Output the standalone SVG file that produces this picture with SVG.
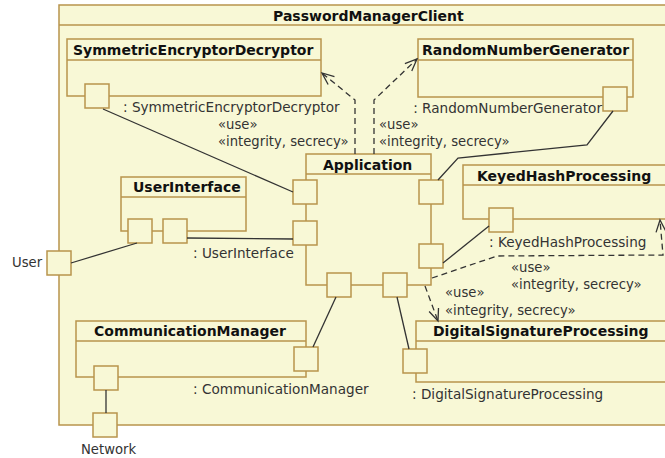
<svg xmlns="http://www.w3.org/2000/svg" width="665" height="458" viewBox="0 0 665 458">
<style>
.box{fill:#f8f8d6;stroke:#b8944c;stroke-width:1.5}
.hdr{fill:none;stroke:#b8944c;stroke-width:1.5}
.port{fill:#f8f8d6;stroke:#b8944c;stroke-width:1.5}
.ttl{font-family:"DejaVu Sans",Verdana,sans-serif;font-weight:bold;font-size:14px;fill:#111}
.lbl{font-family:"DejaVu Sans",Verdana,sans-serif;font-size:13.6px;fill:#333}
.st{font-family:"DejaVu Sans",Verdana,sans-serif;font-size:13.2px;fill:#333}
.ln{fill:none;stroke:#333;stroke-width:1.3}
.dash{fill:none;stroke:#333;stroke-width:1.3;stroke-dasharray:6,4}
</style>
<defs>
<marker id="open" viewBox="-14 -7 16 14" refX="0" refY="0" markerWidth="16" markerHeight="14" markerUnits="userSpaceOnUse" orient="auto">
<path d="M-12,-5 L0,0 L-12,5" fill="none" stroke="#333" stroke-width="1.3"/>
</marker>
</defs>
<rect width="665" height="458" fill="#ffffff"/>
<g id="PasswordManagerClient">
<rect class="box" x="59" y="5" width="630" height="420"/>
<line class="hdr" x1="59" y1="25" x2="689" y2="25"/>
<text class="ttl" x="273" y="20.5">PasswordManagerClient</text>
</g>
<g id="SymmetricEncryptorDecryptor">
<rect class="box" x="67" y="39" width="254" height="57"/>
<line class="hdr" x1="67" y1="60" x2="321" y2="60"/>
<text class="ttl" x="73" y="55">SymmetricEncryptorDecryptor</text>
<rect class="port" x="85" y="84" width="24" height="24"/>
<text class="lbl" x="123" y="112">: SymmetricEncryptorDecryptor</text>
</g>
<g id="RandomNumberGenerator">
<rect class="box" x="418" y="39" width="215" height="58"/>
<line class="hdr" x1="418" y1="60" x2="633" y2="60"/>
<text class="ttl" x="422" y="55">RandomNumberGenerator</text>
<rect class="port" x="603" y="87" width="24" height="24"/>
<text class="lbl" x="602" y="113" text-anchor="end">: RandomNumberGenerator</text>
</g>
<g id="Application">
<rect class="box" x="306" y="154" width="125" height="131"/>
<line class="hdr" x1="306" y1="174" x2="431" y2="174"/>
<text class="ttl" x="323" y="170">Application</text>
<rect class="port" x="293" y="180" width="24" height="24"/>
<rect class="port" x="293" y="221" width="24" height="24"/>
<rect class="port" x="419" y="180" width="24" height="24"/>
<rect class="port" x="419" y="244" width="24" height="24"/>
<rect class="port" x="327" y="273" width="24" height="24"/>
<rect class="port" x="383" y="273" width="24" height="24"/>
</g>
<g id="UserInterface">
<rect class="box" x="121" y="177" width="125" height="54"/>
<line class="hdr" x1="121" y1="197" x2="246" y2="197"/>
<text class="ttl" x="133" y="192">UserInterface</text>
<rect class="port" x="128" y="219" width="24" height="24"/>
<rect class="port" x="163" y="219" width="24" height="24"/>
<text class="lbl" x="193" y="258">: UserInterface</text>
</g>
<g id="User">
<rect class="port" x="47" y="251" width="24" height="24"/>
<text class="st" x="12" y="267">User</text>
</g>
<g id="KeyedHashProcessing">
<rect class="box" x="463" y="165" width="226" height="54"/>
<line class="hdr" x1="463" y1="185" x2="689" y2="185"/>
<text class="ttl" x="477" y="181">KeyedHashProcessing</text>
<rect class="port" x="489" y="208" width="24" height="24"/>
<text class="lbl" x="489" y="247">: KeyedHashProcessing</text>
</g>
<g id="DigitalSignatureProcessing">
<rect class="box" x="416" y="321" width="273" height="61"/>
<line class="hdr" x1="416" y1="341" x2="689" y2="341"/>
<text class="ttl" x="433" y="336">DigitalSignatureProcessing</text>
<rect class="port" x="403" y="349" width="24" height="24"/>
<text class="lbl" x="412" y="399">: DigitalSignatureProcessing</text>
</g>
<g id="CommunicationManager">
<rect class="box" x="76" y="321" width="230" height="56"/>
<line class="hdr" x1="76" y1="341" x2="306" y2="341"/>
<text class="ttl" x="94" y="336">CommunicationManager</text>
<rect class="port" x="294" y="347" width="24" height="24"/>
<rect class="port" x="94" y="366" width="24" height="24"/>
<text class="lbl" x="193" y="394">: CommunicationManager</text>
</g>
<g id="Network">
<rect class="port" x="93" y="413" width="24" height="24"/>
<text class="st" x="81" y="454">Network</text>
</g>
<g id="connectors">
<polyline class="ln" points="103,109 293,192"/>
<polyline class="ln" points="613,111 587,145 458,158 438,180"/>
<polyline class="ln" points="137,243 71,263"/>
<polyline class="ln" points="187,238 293,239"/>
<polyline class="ln" points="489,226 443,263"/>
<polyline class="ln" points="336,297 313,347"/>
<polyline class="ln" points="397,297 409,349"/>
<polyline class="ln" points="106,390 106,413"/>
<polyline class="dash" points="355,154 355,100 322,73" marker-end="url(#open)"/>
<polyline class="dash" points="374,154 374,100 417,59" marker-end="url(#open)"/>
<polyline class="dash" points="432,278 497,256 663,255 660,220" marker-end="url(#open)"/>
<polyline class="dash" points="425,286 438,321" marker-end="url(#open)"/>
<text class="st" x="218" y="129">«use»</text>
<text class="st" x="218" y="146">«integrity, secrecy»</text>
<text class="st" x="379" y="129">«use»</text>
<text class="st" x="379" y="146">«integrity, secrecy»</text>
<text class="st" x="511" y="272">«use»</text>
<text class="st" x="511" y="289">«integrity, secrecy»</text>
<text class="st" x="445" y="297">«use»</text>
<text class="st" x="445" y="315">«integrity, secrecy»</text>
</g>
</svg>
